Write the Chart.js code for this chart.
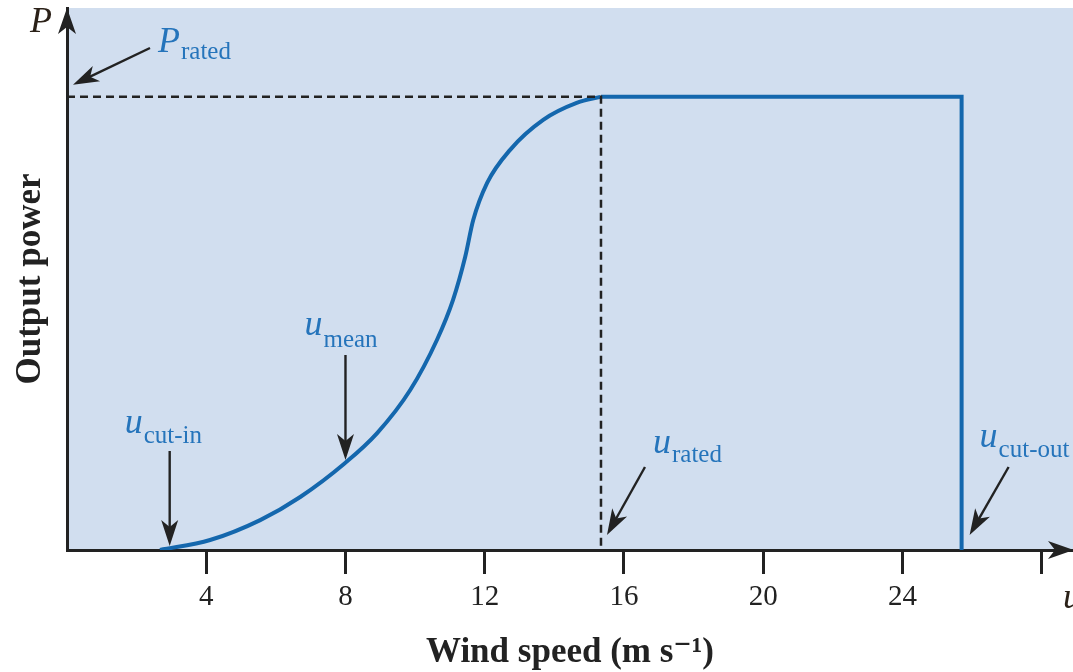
<!DOCTYPE html>
<html>
<head>
<meta charset="utf-8">
<script src="https://cdn.jsdelivr.net/npm/chart.js@4"></script>
<style>
  body { margin: 0; background: #fff; }
  canvas { display: block; }
</style>
</head>
<body>
<canvas id="chart" width="1073" height="672"></canvas>
<script>
// 풍력 터빈 출력 곡선 데이터
const windSpeed = [2.67, 4.11, 5.55, 6.70, 7.99, 8.91, 9.86, 10.63, 11.09, 11.44, 11.67, 12.07, 12.73, 13.68, 14.66, 15.32];
const power = [0, 0.022, 0.066, 0.117, 0.192, 0.258, 0.353, 0.464, 0.552, 0.647, 0.728, 0.810, 0.883, 0.949, 0.987, 1.0];

const cutInSpeed = 2.95;
const meanSpeed = 8.0;
const ratedSpeed = 15.34;
const cutOutSpeed = 25.7;
const ratedPower = 1;

const tickValues = [4, 8, 12, 16, 20, 24, 28];
const tickLabels = ['4', '8', '12', '16', '20', '24', ''];

const SERIF = '"Liberation Serif", "DejaVu Serif", serif';
const CURVE = '#1467ad';
const TEXT_BLUE = '#2574bb';
const INK = '#222';

// 화살표 그리기
function arrow(ctx, x1, y1, x2, y2) {
    const ang = Math.atan2(y2 - y1, x2 - x1);
    const len = 26, half = 8.5, inset = 7;
    ctx.save();
    ctx.strokeStyle = INK;
    ctx.fillStyle = INK;
    ctx.lineWidth = 2.4;
    ctx.beginPath();
    ctx.moveTo(x1, y1);
    ctx.lineTo(x2 - Math.cos(ang) * 12, y2 - Math.sin(ang) * 12);
    ctx.stroke();
    ctx.translate(x2, y2);
    ctx.rotate(ang);
    ctx.beginPath();
    ctx.moveTo(0, 0);
    ctx.lineTo(-len, -half);
    ctx.lineTo(-len + inset, 0);
    ctx.lineTo(-len, half);
    ctx.closePath();
    ctx.fill();
    ctx.restore();
}

// 기호 + 아래첨자
function symbol(ctx, x, y, main, sub, color, subDrop) {
    ctx.save();
    ctx.fillStyle = color;
    ctx.textBaseline = 'alphabetic';
    ctx.textAlign = 'left';
    ctx.font = 'italic 36px ' + SERIF;
    ctx.fillText(main, x, y);
    const w = ctx.measureText(main).width;
    if (sub) {
        ctx.font = '25px ' + SERIF;
        ctx.fillText(sub, x + w + 1, y + subDrop);
    }
    ctx.restore();
}

const backgroundPlugin = {
    id: 'plotBackground',
    beforeDraw(chart) {
        const {ctx, chartArea: a} = chart;
        ctx.save();
        ctx.fillStyle = '#d1deef';
        ctx.fillRect(a.left, a.top, a.right - a.left, a.bottom - a.top);
        ctx.restore();
    }
};

const annotationPlugin = {
    id: 'annotations',
    afterDraw(chart) {
        const {ctx, chartArea: a} = chart;
        const x = chart.scales.x, y = chart.scales.y;
        const y0 = y.getPixelForValue(0);
        const yr = y.getPixelForValue(ratedPower);

        // 축 화살표
        ctx.save();
        ctx.fillStyle = INK;
        ctx.beginPath();
        ctx.moveTo(a.left, a.top);
        ctx.lineTo(a.left - 9, a.top + 26);
        ctx.lineTo(a.left, a.top + 19);
        ctx.lineTo(a.left + 9, a.top + 26);
        ctx.closePath();
        ctx.fill();
        ctx.beginPath();
        ctx.moveTo(a.right + 1, y0);
        ctx.lineTo(a.right - 25, y0 - 9);
        ctx.lineTo(a.right - 18, y0);
        ctx.lineTo(a.right - 25, y0 + 9);
        ctx.closePath();
        ctx.fill();
        ctx.restore();

        symbol(ctx, 30, 32, 'P', '', '#2b2118', 0);
        symbol(ctx, a.right - 10, 608, 'u', '', '#2b2118', 0);

        // P_rated
        arrow(ctx, 150, 48, a.left + 6, yr - 12);
        symbol(ctx, 158, 52, 'P', 'rated', TEXT_BLUE, 7);

        // u_cut-in
        const xc = x.getPixelForValue(cutInSpeed);
        arrow(ctx, xc, y0 - 99, xc, y0 - 4);
        symbol(ctx, xc - 45, y0 - 117, 'u', 'cut-in', TEXT_BLUE, 10);

        // u_mean
        const xm = x.getPixelForValue(meanSpeed);
        arrow(ctx, xm, y0 - 195, xm, y0 - 90);
        symbol(ctx, xm - 41, y0 - 215, 'u', 'mean', TEXT_BLUE, 12);

        // u_rated
        const xr = x.getPixelForValue(ratedSpeed);
        arrow(ctx, xr + 44, y0 - 83, xr + 6, y0 - 15);
        symbol(ctx, xr + 52, y0 - 97, 'u', 'rated', TEXT_BLUE, 9);

        // u_cut-out
        const xo = x.getPixelForValue(cutOutSpeed);
        arrow(ctx, xo + 47, y0 - 83, xo + 8, y0 - 15);
        symbol(ctx, xo + 18, y0 - 103, 'u', 'cut-out', TEXT_BLUE, 10);
    }
};

const curvePoints = windSpeed.map((u, i) => ({x: u, y: power[i]}));

new Chart(document.getElementById('chart'), {
    type: 'scatter',
    data: {
        datasets: [
            {
                // 점선 가이드
                data: [{x: 0, y: ratedPower}, {x: ratedSpeed, y: ratedPower}, {x: ratedSpeed, y: 0}],
                showLine: true,
                borderColor: INK,
                borderWidth: 2.5,
                borderDash: [8, 5],
                pointRadius: 0,
                tension: 0
            },
            {
                data: curvePoints,
                showLine: true,
                borderColor: CURVE,
                borderWidth: 4,
                pointRadius: 0,
                cubicInterpolationMode: 'monotone'
            },
            {
                data: [{x: ratedSpeed, y: ratedPower}, {x: cutOutSpeed, y: ratedPower}, {x: cutOutSpeed, y: 0}],
                showLine: true,
                borderColor: CURVE,
                borderWidth: 4,
                borderJoinStyle: 'miter',
                pointRadius: 0,
                tension: 0
            }
        ]
    },
    options: {
        responsive: false,
        animation: false,
        layout: { padding: { top: 8, right: 0, left: 0, bottom: 0 } },
        plugins: { legend: { display: false }, tooltip: { enabled: false } },
        scales: {
            x: {
                type: 'linear',
                min: 0,
                max: 28.9,
                afterBuildTicks: s => { s.ticks = tickValues.map(v => ({value: v})); },
                afterFit: s => { s.height = 122; },
                ticks: {
                    callback: (v, i) => tickLabels[i],
                    color: INK,
                    font: { family: SERIF, size: 29 },
                    padding: 6,
                    maxRotation: 0,
                    autoSkip: false
                },
                grid: { drawOnChartArea: false, drawTicks: true, tickLength: 24, color: INK, lineWidth: 3 },
                border: { display: true, color: INK, width: 3 },
                title: {
                    display: true,
                    text: 'Wind speed (m s⁻¹)',
                    color: INK,
                    font: { family: SERIF, size: 35, weight: 'bold' },
                    padding: { top: 0, bottom: -2 }
                }
            },
            y: {
                type: 'linear',
                min: 0,
                max: 1.196,
                afterFit: s => { s.width = 67; },
                ticks: { display: false },
                grid: { display: false },
                border: { display: true, color: INK, width: 3 },
                title: {
                    display: true,
                    text: 'Output power',
                    color: INK,
                    font: { family: SERIF, size: 35, weight: 'bold' },
                    padding: { top: 10, bottom: 0 }
                }
            }
        }
    },
    plugins: [backgroundPlugin, annotationPlugin]
});
</script>
</body>
</html>
